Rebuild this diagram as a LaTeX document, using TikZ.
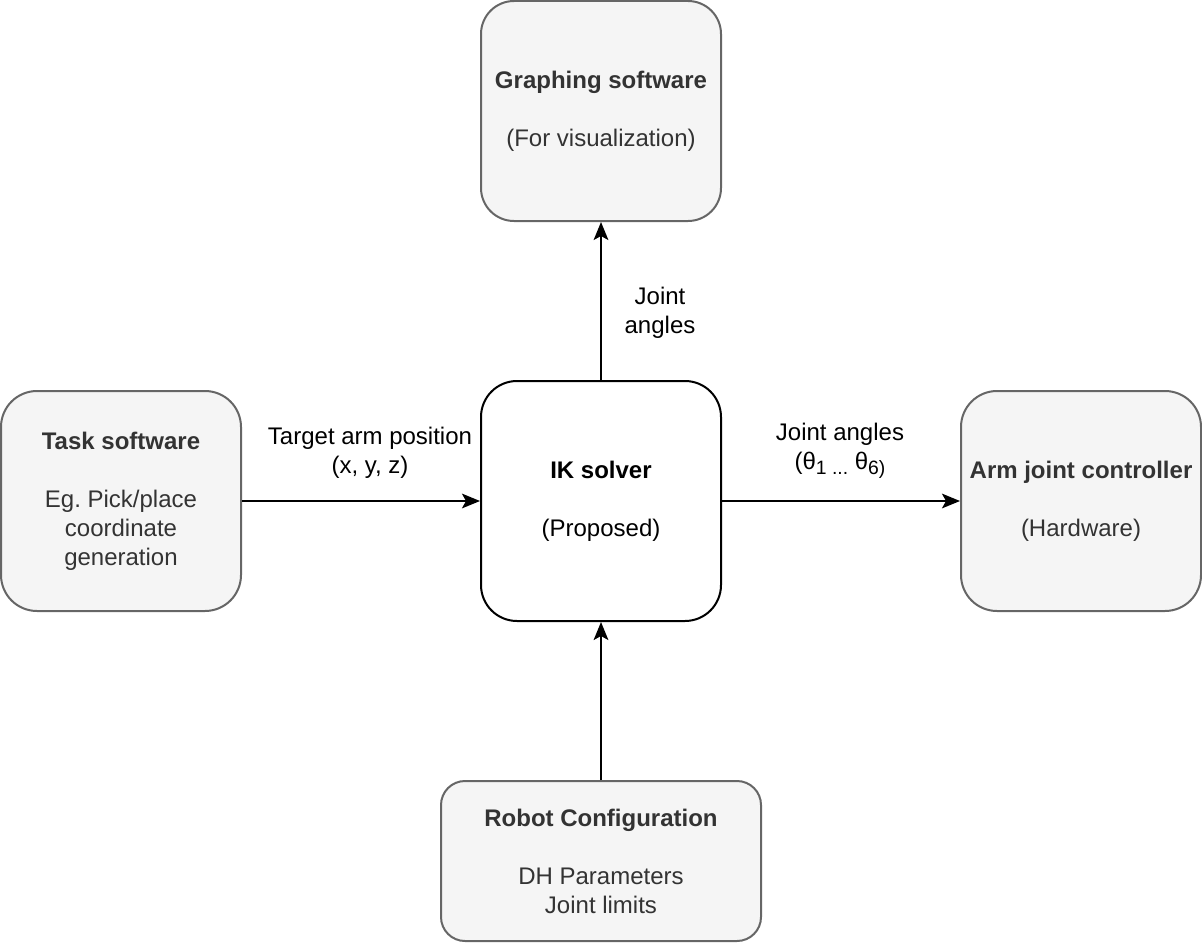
\documentclass[tikz,border=0pt]{standalone}
\usepackage{fontspec}
\setmainfont{Liberation Sans}
\usetikzlibrary{arrows.meta}
\definecolor{boxfill}{HTML}{F5F5F5}
\definecolor{boxline}{HTML}{666666}
\definecolor{boxtext}{HTML}{333333}
\newcommand{\lowsub}[1]{\raisebox{-3.75pt}{\fontsize{14.5}{14.5}\selectfont #1}}
\begin{document}
\frenchspacing
\begin{tikzpicture}[x=0.75pt,y=-0.75pt,
  base/.style={draw, line width=1.5pt, inner sep=0pt, align=center,
    font=\fontsize{18}{21.75}\selectfont},
  greybox/.style={base, fill=boxfill, draw=boxline, text=boxtext},
  mainbox/.style={base, fill=white, draw=black},
  lbl/.style={align=center, inner sep=0pt, font=\fontsize{18}{21.75}\selectfont},
  arr/.style={line width=1.5pt, -{Stealth[length=13.5pt,width=11pt,inset=3pt]}}]
\useasboundingbox (0,0) rectangle (1202,942);

\node[greybox, minimum width=180pt, minimum height=165pt, rounded corners=24.75pt]
  (graph) at (601,111) {\textbf{Graphing software}\\\mbox{}\\(For visualization)};
\node[greybox, minimum width=180pt, minimum height=165pt, rounded corners=27pt]
  (task) at (121,501) {\textbf{Task software}\\\mbox{}\\Eg. Pick/place\\coordinate\\generation};
\node[mainbox, minimum width=180pt, minimum height=180pt, rounded corners=27pt]
  (ik) at (601,501) {\textbf{IK solver}\\\mbox{}\\(Proposed)};
\node[greybox, minimum width=180pt, minimum height=165pt, rounded corners=27pt]
  (arm) at (1081,501) {\textbf{Arm joint controller}\\\mbox{}\\(Hardware)};
\node[greybox, minimum width=240pt, minimum height=120pt, rounded corners=18pt]
  (robot) at (601,861) {\textbf{Robot Configuration}\\\mbox{}\\DH Parameters\\Joint limits};

\draw[arr] (ik.north) -- (graph.south);
\draw[arr] (task.east) -- (ik.west);
\draw[arr] (ik.east) -- (arm.west);
\draw[arr] (robot.north) -- (ik.south);

\node[lbl] (l1) at (660,313) {Joint\\angles};
\node[lbl] (l2) at (370,453) {Target arm position\\(x, y, z)};
\node[lbl] (l3) at (840,451) {Joint angles\\(θ\lowsub{1 ...} θ\lowsub{6)}};
\end{tikzpicture}
\end{document}
